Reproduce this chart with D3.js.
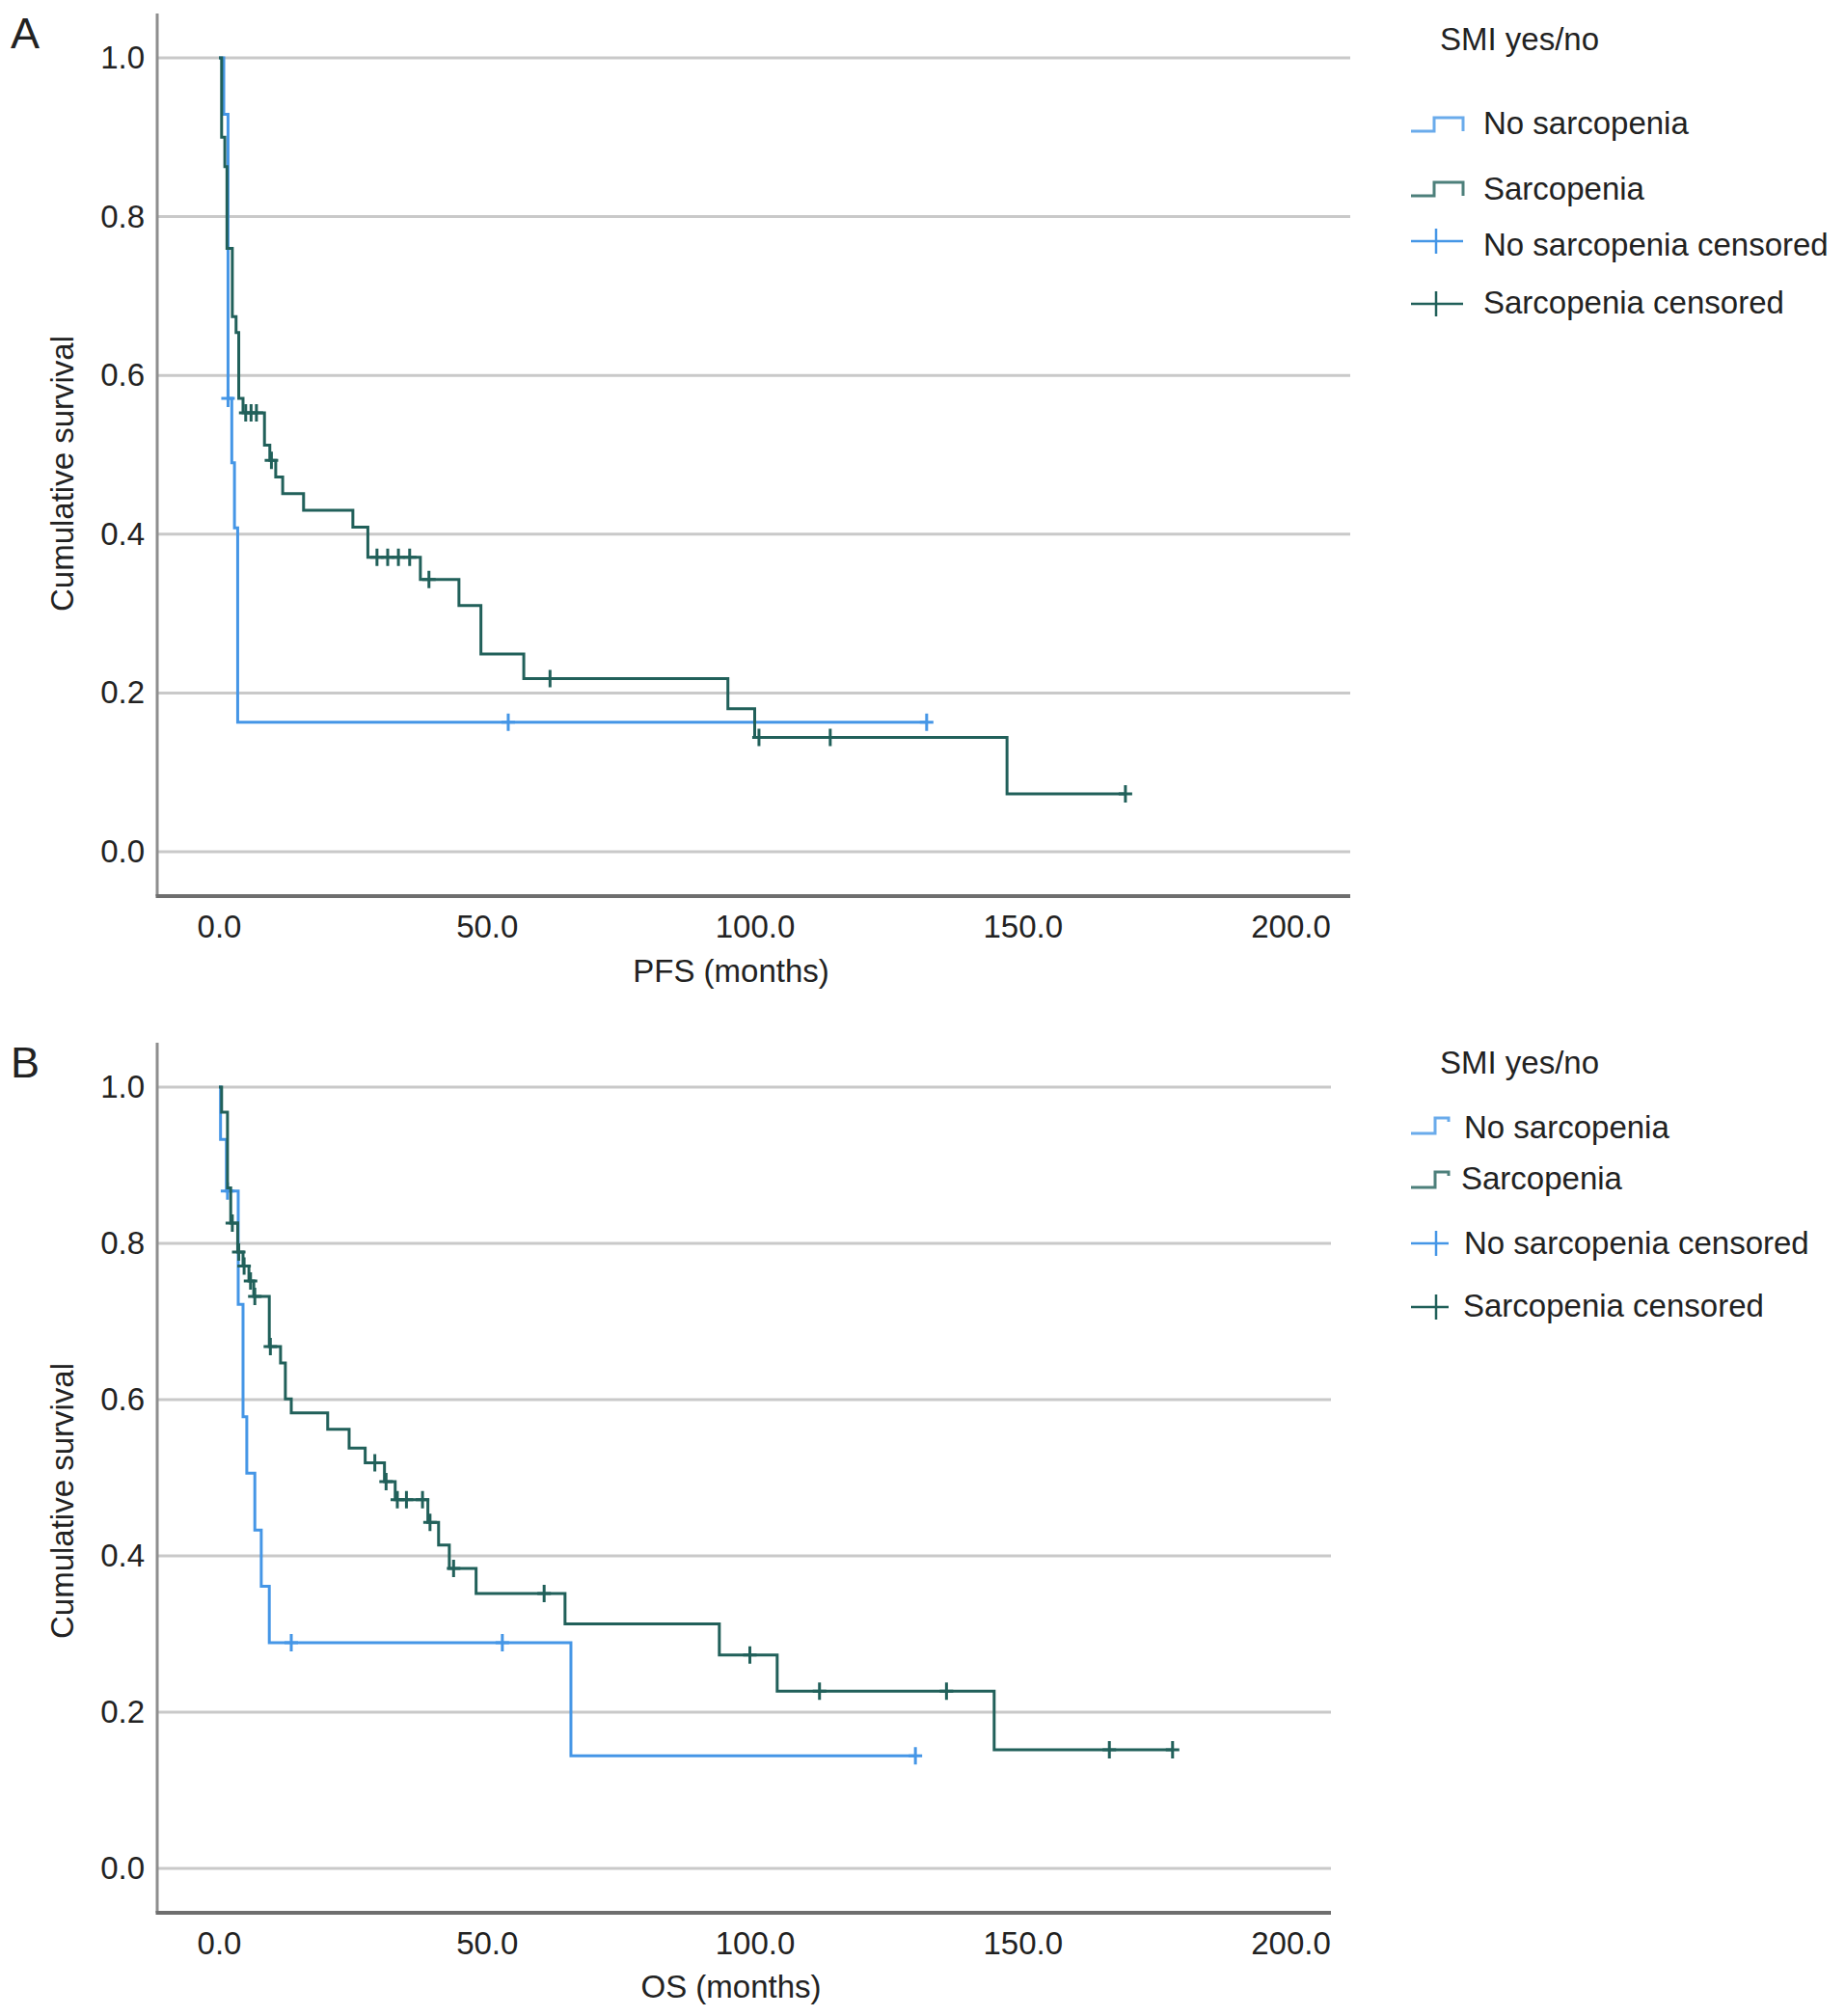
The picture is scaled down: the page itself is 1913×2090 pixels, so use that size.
<!DOCTYPE html>
<html>
<head>
<meta charset="utf-8">
<script src="https://cdn.jsdelivr.net/npm/d3@7"></script>
<style>
  body { margin: 0; background: #fff; }
  text { font-family: "Liberation Sans", Arial, sans-serif; fill: #222; }
</style>
</head>
<body>
<div id="chart"></div>
<script>
const BLUE = "#4596e6";
const GREEN = "#21605a";
const GRID = "#c9c9c9";

const xTicks = [0, 50, 100, 150, 200];
const yTicks = [0, 0.2, 0.4, 0.6, 0.8, 1.0];
const legendTitle = "SMI yes/no";
const legendLabels = ["No sarcopenia", "Sarcopenia", "No sarcopenia censored", "Sarcopenia censored"];

// panel A - PFS
const pfsNoTime = [0, 0.9, 1.7, 2.4, 2.9, 3.5, 132.1];
const pfsNoSurv = [1, 0.929, 0.571, 0.49, 0.408, 0.163, 0.163];
const pfsNoCens = [1.7, 54.0, 132.1];

const pfsSarcTime = [0, 0.5, 1.1, 1.5, 2.5, 3.2, 3.7, 4.5, 8.5, 9.5, 10.6, 11.9, 15.8, 25.0, 27.8, 37.6, 44.8, 48.9, 56.9, 95.0, 100.0, 147.1, 169.2];
const pfsSarcSurv = [1, 0.90, 0.863, 0.76, 0.674, 0.654, 0.571, 0.553, 0.512, 0.493, 0.472, 0.451, 0.430, 0.409, 0.371, 0.343, 0.310, 0.249, 0.218, 0.180, 0.144, 0.073, 0.073];
const pfsSarcCens = [5.0, 6.0, 7.0, 9.8, 29.5, 31.5, 33.5, 35.6, 39.2, 61.8, 100.8, 114.1, 169.2];

// panel B - OS
const osNoTime = [0, 0.3, 1.4, 3.6, 4.5, 5.2, 6.7, 7.9, 9.4, 65.7, 130.0];
const osNoSurv = [1, 0.933, 0.867, 0.722, 0.578, 0.506, 0.433, 0.361, 0.289, 0.144, 0.144];
const osNoCens = [1.6, 13.5, 52.9, 130.0];

const osSarcTime = [0, 0.5, 1.6, 2.2, 3.5, 4.5, 5.6, 6.5, 9.4, 11.5, 12.4, 13.5, 20.3, 24.3, 27.3, 30.9, 32.9, 39.0, 41.0, 43.0, 48.0, 64.6, 93.4, 104.2, 144.7, 178.0];
const osSarcSurv = [1, 0.968, 0.871, 0.826, 0.789, 0.771, 0.752, 0.732, 0.668, 0.647, 0.601, 0.583, 0.562, 0.538, 0.519, 0.495, 0.472, 0.443, 0.414, 0.384, 0.352, 0.313, 0.273, 0.227, 0.152, 0.152];
const osSarcCens = [2.5, 3.7, 4.7, 5.9, 6.7, 9.6, 29.1, 31.2, 33.3, 35.0, 38.0, 39.4, 43.8, 60.7, 99.1, 112.1, 135.8, 166.2, 178.0];

var svg = d3.select("#chart")
    .append("svg")
    .attr("width", 1913)
    .attr("height", 2090);

// survival value at time t from a step curve
function survAt(times, surv, t) {
    var i = d3.bisectRight(times, t) - 1;
    return surv[Math.max(0, i)];
}

function drawPanel(p) {
    var x = d3.scaleLinear().domain([0, 200]).range([227, 1338]);
    var y = d3.scaleLinear().domain([0, 1]).range([p.y0, p.y1]);
    var g = svg.append("g");

    // gridlines
    g.selectAll(".grid").data(yTicks).enter().append("line")
        .attr("x1", p.left).attr("x2", p.right)
        .attr("y1", d => y(d)).attr("y2", d => y(d))
        .attr("stroke", GRID).attr("stroke-width", 3);

    // axes lines
    g.append("line").attr("x1", p.left).attr("x2", p.left)
        .attr("y1", p.top).attr("y2", p.bottom)
        .attr("stroke", "#8e8e8e").attr("stroke-width", 3);
    g.append("line").attr("x1", p.left - 1.5).attr("x2", p.right)
        .attr("y1", p.bottom).attr("y2", p.bottom)
        .attr("stroke", "#6e6e6e").attr("stroke-width", 4);

    // tick labels
    var yAxis = g.append("g").attr("transform", "translate(" + p.left + ",0)")
        .call(d3.axisLeft(y).tickValues(yTicks).tickFormat(d3.format(".1f")).tickSize(0).tickPadding(13));
    var xAxis = g.append("g").attr("transform", "translate(0," + p.bottom + ")")
        .call(d3.axisBottom(x).tickValues(xTicks).tickFormat(d3.format(".1f")).tickSize(0).tickPadding(20));
    [xAxis, yAxis].forEach(a => {
        a.select(".domain").remove();
        a.selectAll("text").style("font-family", "'Liberation Sans', Arial, sans-serif")
            .style("font-size", "33px").attr("fill", "#222");
    });

    g.append("text").attr("x", 758).attr("y", p.titleY)
        .attr("text-anchor", "middle").style("font-size", "33px").text(p.xTitle);
    g.append("text").attr("transform", "translate(76," + p.yTitleY + ") rotate(-90)")
        .attr("text-anchor", "middle").style("font-size", "33px").text("Cumulative survival");
    g.append("text").attr("x", 11).attr("y", p.letterY)
        .style("font-size", "45px").text(p.letter);

    var line = d3.line().curve(d3.curveStepAfter)
        .x(d => x(d[0])).y(d => y(d[1]));

    p.series.forEach(s => {
        var pts = s.time.map((t, i) => [t, s.surv[i]]);
        g.append("path").datum(pts)
            .attr("d", line)
            .attr("fill", "none").attr("stroke", s.color).attr("stroke-width", 3)
            .attr("stroke-linejoin", "miter");
        var cg = g.append("g");
        s.cens.forEach(t => {
            var cx = x(t), cy = y(survAt(s.time, s.surv, t));
            cg.append("path")
                .attr("d", "M" + (cx - 7) + "," + cy + "H" + (cx + 7) + "M" + cx + "," + (cy - 9) + "V" + (cy + 9))
                .attr("stroke", s.color).attr("stroke-width", 3).attr("fill", "none");
        });
    });

    // legend
    var L = p.legend;
    g.append("text").attr("x", 1493).attr("y", L.titleY).style("font-size", "33px").text(legendTitle);
    var colors = [BLUE, GREEN, BLUE, GREEN];
    legendLabels.forEach((lab, i) => {
        var it = L.items[i];
        g.append("text").attr("x", it.tx).attr("y", it.ty).style("font-size", "33px").text(lab);
        var sym;
        if (i < 2) {
            sym = "M1463," + it.lo + "H" + L.stepX + "V" + it.hi + "H" + L.endX + "V" + (it.hi + L.drop);
        } else {
            sym = "M1463," + it.lo + "H" + L.endX + "M1489," + (it.lo - 13) + "V" + (it.lo + 13);
        }
        g.append("path").attr("d", sym).attr("fill", "none")
            .attr("stroke", colors[i]).attr("stroke-width", i < 2 ? 3 : 2.5)
            .attr("opacity", i < 2 ? 0.8 : 1);
    });
}

drawPanel({
    letter: "A", letterY: 50, xTitle: "PFS (months)", titleY: 1018, yTitleY: 491,
    left: 163, right: 1400, top: 14, bottom: 929, y0: 883, y1: 60,
    series: [
        {time: pfsNoTime, surv: pfsNoSurv, cens: pfsNoCens, color: BLUE},
        {time: pfsSarcTime, surv: pfsSarcSurv, cens: pfsSarcCens, color: GREEN}
    ],
    legend: {
        titleY: 52, stepX: 1487, endX: 1517, drop: 14,
        items: [
            {tx: 1538, ty: 139, lo: 136, hi: 122},
            {tx: 1538, ty: 207, lo: 203, hi: 189},
            {tx: 1538, ty: 265, lo: 250},
            {tx: 1538, ty: 325, lo: 315}
        ]
    }
});

drawPanel({
    letter: "B", letterY: 1117, xTitle: "OS (months)", titleY: 2071, yTitleY: 1556,
    left: 163, right: 1380, top: 1081, bottom: 1983, y0: 1937, y1: 1127,
    series: [
        {time: osNoTime, surv: osNoSurv, cens: osNoCens, color: BLUE},
        {time: osSarcTime, surv: osSarcSurv, cens: osSarcCens, color: GREEN}
    ],
    legend: {
        titleY: 1113, stepX: 1488, endX: 1502, drop: 4,
        items: [
            {tx: 1518, ty: 1180, lo: 1175, hi: 1159},
            {tx: 1515, ty: 1233, lo: 1231, hi: 1215},
            {tx: 1518, ty: 1300, lo: 1289},
            {tx: 1517, ty: 1365, lo: 1355}
        ]
    }
});
</script>
</body>
</html>
